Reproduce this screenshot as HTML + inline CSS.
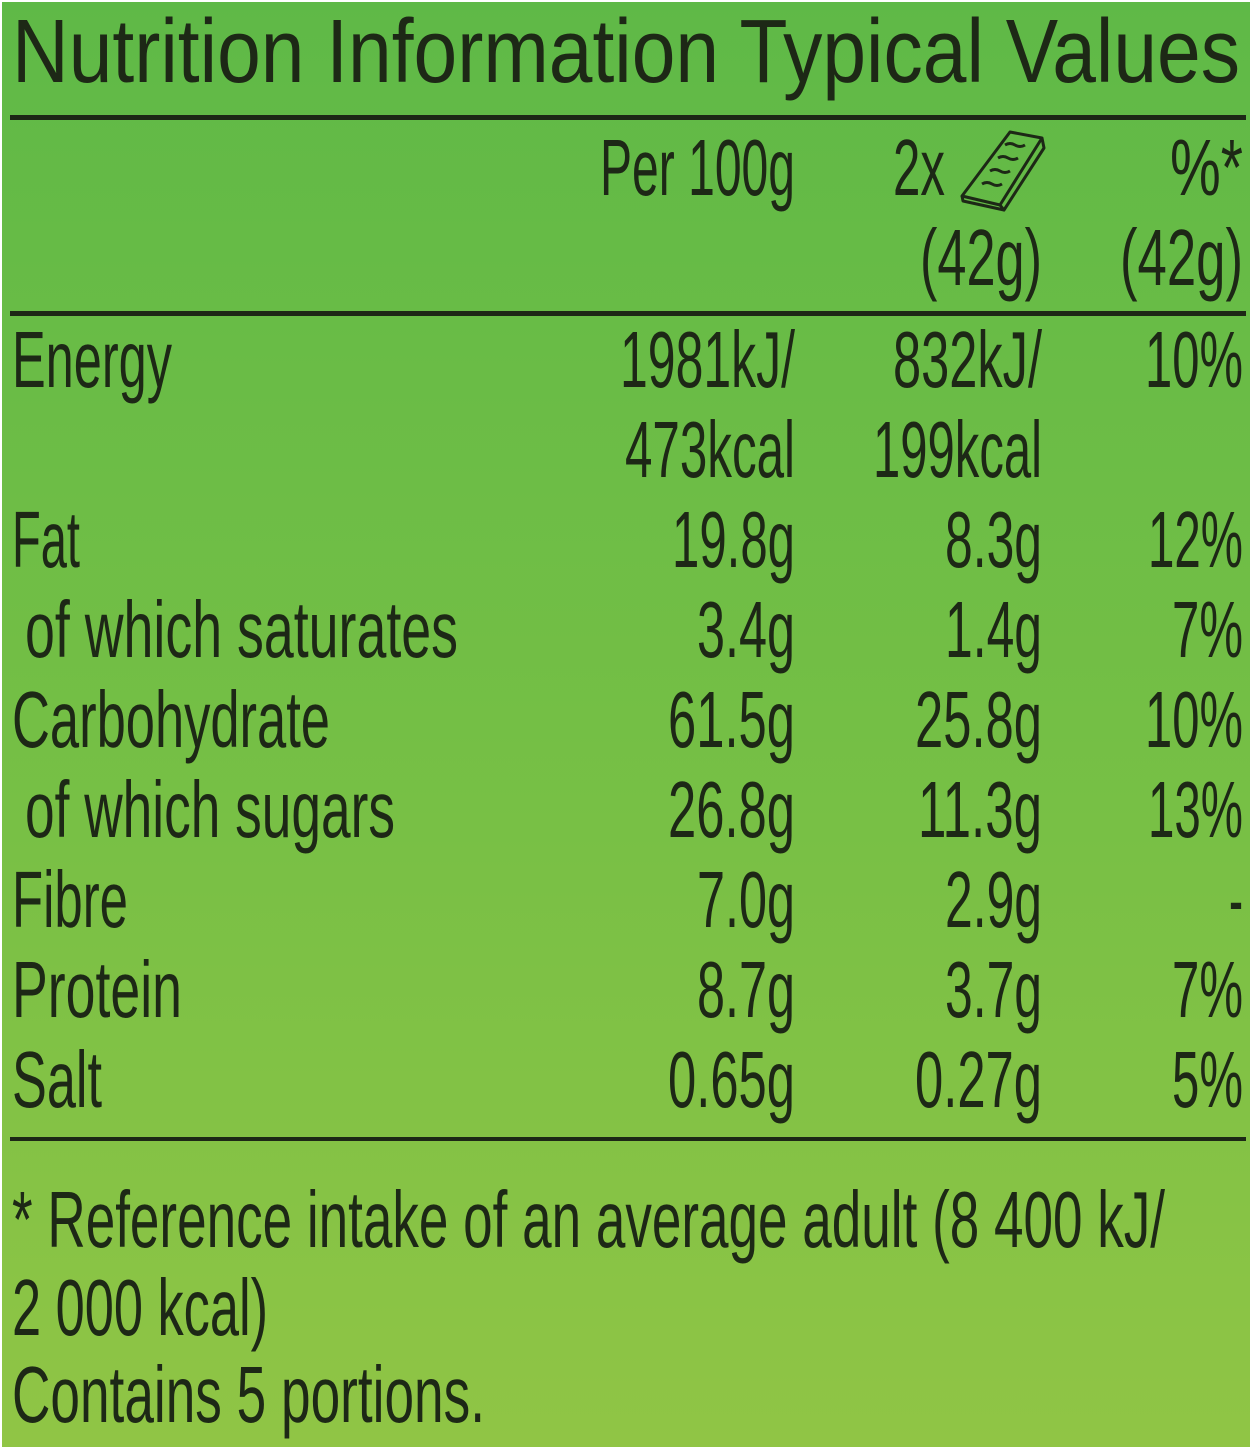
<!DOCTYPE html>
<html><head><style>html,body{margin:0;padding:0}body{width:1254px;height:1449px;overflow:hidden}</style></head>
<body>
<svg width="1254" height="1449" xmlns="http://www.w3.org/2000/svg" font-family="Liberation Sans Narrow, Liberation Sans, sans-serif" fill="#1d2816">
<defs><linearGradient id="g" x1="0" y1="0" x2="0" y2="1"><stop offset="0" stop-color="#5fb947"/><stop offset="0.5" stop-color="#74bf45"/><stop offset="1" stop-color="#90c545"/></linearGradient></defs>
<rect width="1254" height="1449" fill="#fff"/>
<rect x="2" y="2" width="1248" height="1445" fill="url(#g)"/>
<g font-size="90"><text x="12" y="82" textLength="1228" lengthAdjust="spacingAndGlyphs">Nutrition Information Typical Values</text></g>
<rect x="10" y="115" width="1236" height="5"/>
<rect x="10" y="311" width="1236" height="5"/>
<rect x="10" y="1137" width="1236" height="4"/>
<g font-size="80" lengthAdjust="spacingAndGlyphs">
<text x="600" y="195" textLength="195" lengthAdjust="spacingAndGlyphs">Per 100g</text>
<text x="893" y="195" textLength="52" lengthAdjust="spacingAndGlyphs">2x</text>
<text x="1170" y="195" textLength="73" lengthAdjust="spacingAndGlyphs">%*</text>
<text x="920" y="285" textLength="122" lengthAdjust="spacingAndGlyphs">(42g)</text>
<text x="1120" y="285" textLength="123" lengthAdjust="spacingAndGlyphs">(42g)</text>
</g>
<g fill="none" stroke="#1d2816" stroke-width="3" stroke-linejoin="round">
<path d="M1010 132 L1042 138 L1000 205 L962 196 Z"/>
<path d="M1042 138 L1044 148 L1004 210 L1000 205"/>
<path d="M962 196 L963 201 L1004 210"/>
<path d="M1005 145 q5 -3 10 0 t10 0 M998 158 q5 -3 10 0 t10 0 M990 171 q5 -3 10 0 t10 0 M982 184 q5 -3 10 0 t10 0"/>
</g>
<g font-size="80">
<text x="12" y="387" textLength="160" lengthAdjust="spacingAndGlyphs">Energy</text>
<text x="620" y="387" textLength="175" lengthAdjust="spacingAndGlyphs">1981kJ/</text>
<text x="893" y="387" textLength="149" lengthAdjust="spacingAndGlyphs">832kJ/</text>
<text x="1145" y="387" textLength="98" lengthAdjust="spacingAndGlyphs">10%</text>
<text x="625" y="477" textLength="170" lengthAdjust="spacingAndGlyphs">473kcal</text>
<text x="873" y="477" textLength="169" lengthAdjust="spacingAndGlyphs">199kcal</text>
<text x="12" y="567" textLength="68" lengthAdjust="spacingAndGlyphs">Fat</text>
<text x="672" y="567" textLength="123" lengthAdjust="spacingAndGlyphs">19.8g</text>
<text x="945" y="567" textLength="97" lengthAdjust="spacingAndGlyphs">8.3g</text>
<text x="1148" y="567" textLength="95" lengthAdjust="spacingAndGlyphs">12%</text>
<text x="25" y="657" textLength="433" lengthAdjust="spacingAndGlyphs">of which saturates</text>
<text x="697" y="657" textLength="98" lengthAdjust="spacingAndGlyphs">3.4g</text>
<text x="945" y="657" textLength="97" lengthAdjust="spacingAndGlyphs">1.4g</text>
<text x="1172" y="657" textLength="71" lengthAdjust="spacingAndGlyphs">7%</text>
<text x="12" y="747" textLength="318" lengthAdjust="spacingAndGlyphs">Carbohydrate</text>
<text x="668" y="747" textLength="127" lengthAdjust="spacingAndGlyphs">61.5g</text>
<text x="915" y="747" textLength="127" lengthAdjust="spacingAndGlyphs">25.8g</text>
<text x="1145" y="747" textLength="98" lengthAdjust="spacingAndGlyphs">10%</text>
<text x="25" y="837" textLength="370" lengthAdjust="spacingAndGlyphs">of which sugars</text>
<text x="668" y="837" textLength="127" lengthAdjust="spacingAndGlyphs">26.8g</text>
<text x="918" y="837" textLength="124" lengthAdjust="spacingAndGlyphs">11.3g</text>
<text x="1148" y="837" textLength="95" lengthAdjust="spacingAndGlyphs">13%</text>
<text x="12" y="927" textLength="116" lengthAdjust="spacingAndGlyphs">Fibre</text>
<text x="697" y="927" textLength="98" lengthAdjust="spacingAndGlyphs">7.0g</text>
<text x="945" y="927" textLength="97" lengthAdjust="spacingAndGlyphs">2.9g</text>
<text x="1229" y="927" textLength="14" lengthAdjust="spacingAndGlyphs">-</text>
<text x="12" y="1017" textLength="170" lengthAdjust="spacingAndGlyphs">Protein</text>
<text x="697" y="1017" textLength="98" lengthAdjust="spacingAndGlyphs">8.7g</text>
<text x="945" y="1017" textLength="97" lengthAdjust="spacingAndGlyphs">3.7g</text>
<text x="1172" y="1017" textLength="71" lengthAdjust="spacingAndGlyphs">7%</text>
<text x="12" y="1107" textLength="90" lengthAdjust="spacingAndGlyphs">Salt</text>
<text x="668" y="1107" textLength="127" lengthAdjust="spacingAndGlyphs">0.65g</text>
<text x="915" y="1107" textLength="127" lengthAdjust="spacingAndGlyphs">0.27g</text>
<text x="1172" y="1107" textLength="71" lengthAdjust="spacingAndGlyphs">5%</text>
<text x="12" y="1247" textLength="1153" lengthAdjust="spacingAndGlyphs">* Reference intake of an average adult (8 400 kJ/</text>
<text x="12" y="1335" textLength="256" lengthAdjust="spacingAndGlyphs">2 000 kcal)</text>
<text x="12" y="1422" textLength="473" lengthAdjust="spacingAndGlyphs">Contains 5 portions.</text>
</g>
</svg>
</body></html>
